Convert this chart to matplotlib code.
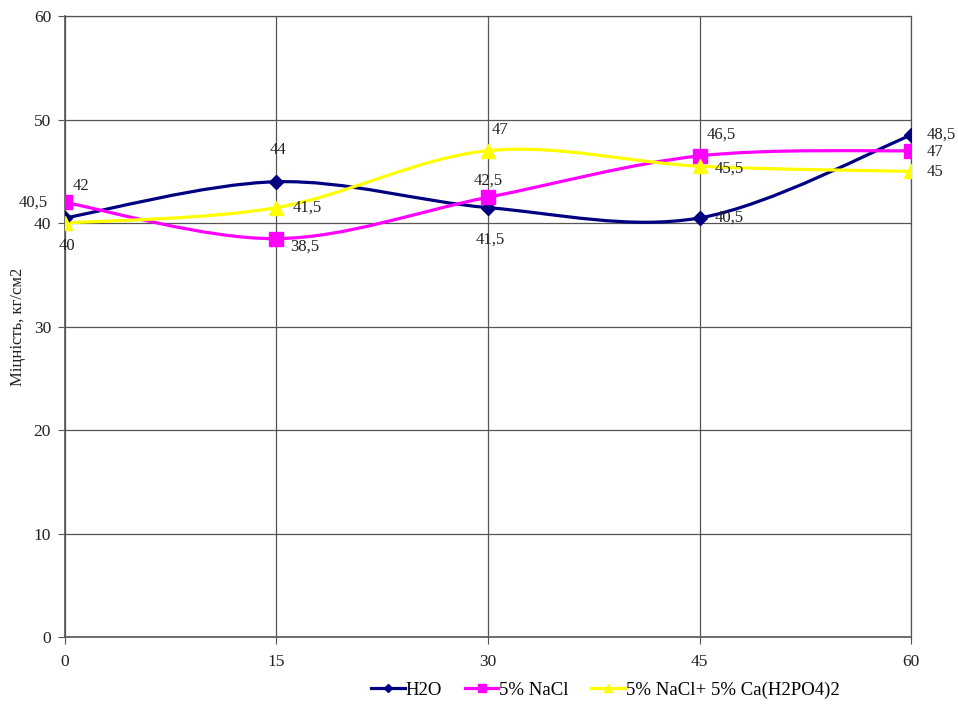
import matplotlib
matplotlib.use('Agg')
import matplotlib.pyplot as plt
from matplotlib.path import Path
from matplotlib.patches import PathPatch
import numpy as np

plt.rcParams['font.family'] = ['Liberation Serif', 'DejaVu Serif']

days = [0, 15, 30, 45, 60]
h2o = [40.5, 44, 41.5, 40.5, 48.5]
nacl = [42, 38.5, 42.5, 46.5, 47]
nacl_ca = [40, 41.5, 47, 45.5, 45]

seriesNames = ['H2O', '5% NaCl', '5% NaCl+ 5% Ca(H2PO4)2']
seriesColors = ['#000080', '#FF00FF', '#FFFF00']
seriesMarkers = ['D', 's', '^']
markerSizes = [7, 10, 10]

# data label offsets in pixels (dx, dy, ha)
labelPlacement = [
    [(-17, 15, 'right'), (2, 32, 'center'), (2, -32, 'center'), (15, 0, 'left'), (16, 1, 'left')],
    [(8, 16, 'left'), (14, -8, 'left'), (0, 17, 'center'), (7, 21, 'left'), (16, -1, 'left')],
    [(2, -23, 'center'), (16, 0, 'left'), (4, 21, 'left'), (15, -2, 'left'), (16, -1, 'left')],
]


def smoothPath(xs, ys):
    # bezier through the points, control points like a catmull-rom curve
    pts = np.column_stack([xs, ys]).astype(float)
    n = len(pts)
    verts = [pts[0]]
    codes = [Path.MOVETO]
    for i in range(n - 1):
        p0 = pts[i - 1] if i > 0 else pts[i]
        p1 = pts[i]
        p2 = pts[i + 1]
        p3 = pts[i + 2] if i + 2 < n else pts[i + 1]
        c1 = p1 + (p2 - p0) / 6.0
        c2 = p2 - (p3 - p1) / 6.0
        verts += [c1, c2, p2]
        codes += [Path.CURVE4] * 3
    return Path(verts, codes)


def fmt(v):
    s = ('%g' % v)
    return s.replace('.', ',')


fig = plt.figure(figsize=(9.58, 7.04), dpi=100)
ax = fig.add_axes([0.0678, 0.0952, 0.8832, 0.8818])

allSeries = [h2o, nacl, nacl_ca]
handles = []
for idx, values in enumerate(allSeries):
    patch = PathPatch(smoothPath(days, values), facecolor='none', edgecolor=seriesColors[idx],
                      lw=2.3, zorder=3)
    ax.add_patch(patch)
    ax.plot(days, values, linestyle='none', marker=seriesMarkers[idx], markersize=markerSizes[idx],
            color=seriesColors[idx], zorder=4)
    handle, = ax.plot([], [], color=seriesColors[idx], lw=2.3, marker=seriesMarkers[idx],
                      markersize=markerSizes[idx] * 0.6)
    handles.append(handle)
    for j, v in enumerate(values):
        dx, dy, ha = labelPlacement[idx][j]
        ax.annotate(fmt(v), (days[j], v), xytext=(dx, dy), textcoords='offset pixels',
                    ha=ha, va='center', fontsize=12, color='#222222', zorder=5)

ax.set_xlim(0, 60)
ax.set_ylim(0, 60)
ax.set_xticks(days)
ax.set_yticks(range(0, 61, 10))
ax.grid(True, color='#555555', lw=0.9)
ax.set_axisbelow(True)
for side in ['top', 'right']:
    ax.spines[side].set_color('#555555')
    ax.spines[side].set_linewidth(0.9)
for side in ['left', 'bottom']:
    ax.spines[side].set_color('#555555')
    ax.spines[side].set_linewidth(1.2)
ax.tick_params(axis='both', labelsize=12.5, colors='#555555', labelcolor='#222222', length=5)
ax.tick_params(axis='y', pad=5)
ax.tick_params(axis='x', pad=7)
ax.set_ylabel('Міцність, кг/см2', fontsize=12, color='#222222')
ax.yaxis.set_label_coords(-0.046, 0.5)

fig.legend(handles, seriesNames, loc='center', bbox_to_anchor=(0.632, 0.02), ncol=3, frameon=False,
           fontsize=13.5, handlelength=1.8, handletextpad=0.05, columnspacing=1.2)

fig.savefig('out.png', dpi=100)
